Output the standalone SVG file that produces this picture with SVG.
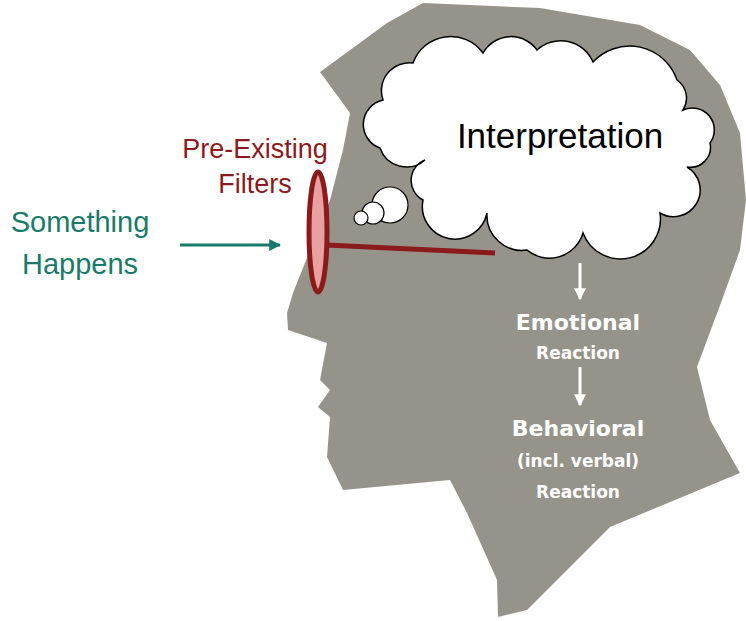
<svg xmlns="http://www.w3.org/2000/svg" width="746" height="621" viewBox="0 0 746 621">
<style>
.teal{fill:#1a7a6a;font-family:"Liberation Sans",Arial,sans-serif;font-size:29px;text-anchor:middle}
.red{fill:#8b1a1e;font-family:"Liberation Sans",Arial,sans-serif;font-size:27px;text-anchor:middle}
.w{fill:#fff;font-family:"DejaVu Sans",sans-serif;font-weight:bold;text-anchor:middle}
</style>
<defs>
<marker id="ah" viewBox="0 0 10 10" refX="9" refY="5" markerWidth="4" markerHeight="4" orient="auto"><path d="M0,0L10,5L0,10z" fill="#fff"/></marker>
<marker id="gh" viewBox="0 0 10 10" refX="9" refY="5" markerWidth="4" markerHeight="4" orient="auto"><path d="M0,0L10,5L0,10z" fill="#1a7a6a"/></marker>
</defs>
<rect width="746" height="621" fill="#fff"/>
<g id="head">
<path fill="#96948a" d="M423,3 L387,23 L320,72 L350,113 L343,150 L330,200 L293,293 L287,313 L288,330 L327,343 L320,380 L330,390 L318,407 L330,417 L327,457 L343,490 L450,480 L467,513 L497,580 L498,617 L527,610 L610,527 L740,473 L710,420 L697,367 L722,300 L740,250 L746,200 L740,133 L720,85 L690,50 L640,25 L540,8 Z"/>
</g>
<g id="cloud">
<circle cx="390" cy="205" r="18" fill="#fff" stroke="#000" stroke-width="1.2"/>
<circle cx="373" cy="213" r="11" fill="#fff" stroke="#000" stroke-width="1.2"/>
<circle cx="361" cy="218" r="7" fill="#fff" stroke="#000" stroke-width="1.2"/>
<path fill="#fff" stroke="#000" stroke-width="1.5" d="M383,100 A28,28 0 0 1 413,63 A40,40 0 0 1 483,53 A32,32 0 0 1 537,50 A35,35 0 0 1 593,62 A50,50 0 0 1 677,80 A22,22 0 0 1 683,110 A22,22 0 0 1 710,143 A20,20 0 0 1 687,167 A22,22 0 0 1 660,213 A40,40 0 0 1 583,233 A35,35 0 0 1 527,250 A35,35 0 0 1 487,213 A30,30 0 0 1 423,200 A22,22 0 0 1 425,160 A28,28 0 0 1 380,148 A25,25 0 0 1 383,100 Z"/>
<text x="560" y="148" font-family="Liberation Sans,Arial,sans-serif" font-size="35" text-anchor="middle" fill="#000">Interpretation</text>
</g>
<g id="glasses">
<line x1="326" y1="245" x2="495" y2="253" stroke="#8b1a1a" stroke-width="5"/>
<ellipse cx="318" cy="232" rx="9" ry="60" fill="#e8a0a0" stroke="#8b1a1a" stroke-width="5"/>
</g>
<g id="labels">
<text class="teal" x="80" y="232">Something</text>
<text class="teal" x="80" y="274">Happens</text>
<text class="red" x="255" y="158">Pre-Existing</text>
<text class="red" x="255" y="193">Filters</text>
<text class="w" x="578" y="330" font-size="22">Emotional</text>
<text class="w" x="578" y="359" font-size="17">Reaction</text>
<text class="w" x="578" y="436" font-size="22">Behavioral</text>
<text class="w" x="578" y="467" font-size="17">(incl. verbal)</text>
<text class="w" x="578" y="498" font-size="17">Reaction</text>
</g>
<g id="connectors">
<line x1="180" y1="245" x2="280" y2="245" stroke="#1a7a6a" stroke-width="3" marker-end="url(#gh)"/>
<line x1="580" y1="263" x2="580" y2="299" stroke="#fff" stroke-width="3" marker-end="url(#ah)"/>
<line x1="580" y1="367" x2="580" y2="405" stroke="#fff" stroke-width="3" marker-end="url(#ah)"/>
</g>
</svg>
